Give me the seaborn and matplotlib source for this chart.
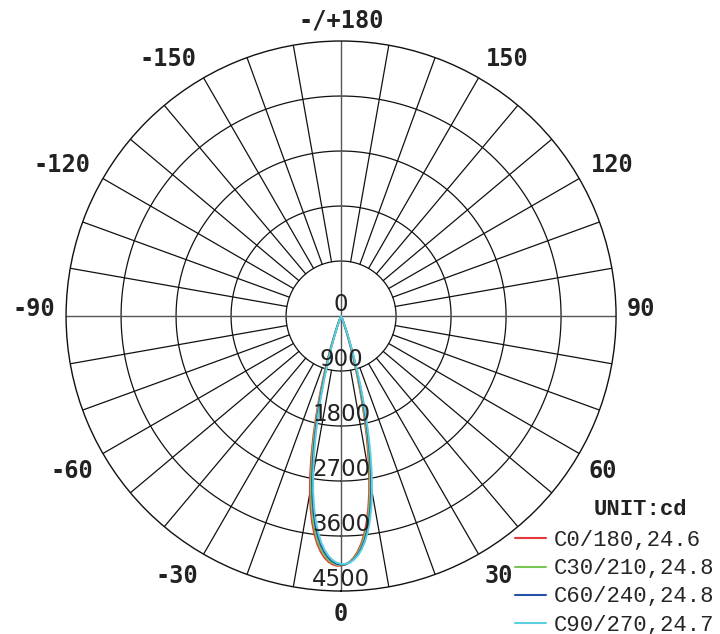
import numpy as np
import pandas as pd
import matplotlib
matplotlib.use("Agg")
import matplotlib.pyplot as plt
import seaborn as sns

# gamma angles (deg) away from nadir, same on both halves of each C-plane
angles = [0, 1, 2, 3, 4, 5, 6, 7, 8, 9, 10, 11, 12, 13, 14, 15, 16, 17, 18, 19,
          20, 21, 22, 24, 26, 28, 30, 40]

# intensities in cd: left half (C180.. side) and right half (C0.. side)
c0_left = [4087, 4087, 4067, 4025, 3959, 3867, 3747, 3596, 3410, 3190, 2936, 2651,
           2341, 2015, 1684, 1361, 1059, 790, 562, 379, 241, 144, 80, 20, 7, 4, 3, 0]
c0_right = [4087, 4067, 4025, 3959, 3867, 3747, 3596, 3410, 3190, 2936, 2651, 2341,
            2015, 1684, 1361, 1059, 790, 562, 379, 241, 144, 80, 41, 8, 4, 3, 2, 0]
c30_left = [4080, 4074, 4047, 3998, 3925, 3826, 3697, 3536, 3340, 3110, 2847, 2554,
            2239, 1911, 1581, 1264, 971, 714, 500, 332, 207, 121, 66, 15, 6, 4, 3, 0]
c30_right = [4080, 4066, 4030, 3972, 3889, 3778, 3636, 3462, 3253, 3009, 2733, 2431,
             2109, 1779, 1452, 1144, 864, 623, 427, 277, 168, 95, 50, 11, 5, 3, 2, 0]
c60_left = [4070, 4056, 4020, 3962, 3879, 3769, 3627, 3453, 3245, 3002, 2727, 2425,
            2104, 1774, 1449, 1141, 862, 622, 426, 276, 168, 95, 50, 11, 5, 3, 2, 0]
c60_right = [4070, 4064, 4037, 3988, 3916, 3816, 3688, 3527, 3332, 3103, 2840, 2548,
             2234, 1906, 1578, 1261, 969, 713, 499, 331, 206, 120, 65, 15, 6, 4, 3, 0]
c90_left = [4057, 4037, 3995, 3930, 3839, 3720, 3569, 3385, 3167, 2914, 2632, 2324,
            2000, 1672, 1351, 1051, 784, 558, 376, 240, 143, 79, 41, 8, 4, 3, 2, 0]
c90_right = [4057, 4057, 4037, 3995, 3930, 3839, 3720, 3569, 3385, 3167, 2914, 2632,
             2324, 2000, 1672, 1351, 1051, 784, 558, 376, 240, 143, 79, 19, 7, 4, 3, 0]

series_names = ["C0/180,24.6", "C30/210,24.8", "C60/240,24.8", "C90/270,24.7"]
series_colors = ["#e8373b", "#78c655", "#2253a6", "#5ccfde"]
ring_values = [900, 1800, 2700, 3600, 4500]
angle_labels = {0: "0", 30: "30", 60: "60", 90: "90", 120: "120", 150: "150",
                180: "-/+180", -150: "-150", -120: "-120", -90: "-90",
                -60: "-60", -30: "-30"}

halves = [(c0_left, c0_right), (c30_left, c30_right),
          (c60_left, c60_right), (c90_left, c90_right)]

rows = []
for name, (left, right) in zip(series_names, halves):
    for a, v in zip(angles[::-1], left[::-1]):
        if a != 0:
            rows.append((name, -a, v))
    for a, v in zip(angles, right):
        rows.append((name, a, v))
df = pd.DataFrame(rows, columns=["series", "gamma", "cd"])
df["theta"] = np.deg2rad(df["gamma"])

sns.set_theme(style="white")
plt.rcParams["font.family"] = ["DejaVu Sans"]

fig = plt.figure(figsize=(7.2, 6.34), dpi=100)
ax = fig.add_axes([0.0917, 0.0678, 0.764, 0.8675], projection="polar")
ax.set_theta_zero_location("S")
ax.set_theta_direction(1)
ax.set_ylim(0, 4500)
ax.grid(False)
ax.set_xticks([])
ax.set_yticks([])
ax.spines["polar"].set_color("#111111")
ax.spines["polar"].set_linewidth(1.0)

# grid: rings and spokes
full = np.linspace(0, 2 * np.pi, 400)
for r in ring_values[:-1]:
    ax.plot(full, np.full_like(full, r), color="#111111", lw=0.9, zorder=1)
for a in range(-170, 181, 10):
    t = np.deg2rad(a)
    if a % 90 == 0:
        ax.plot([t, t], [0, 4500], color="#555555", lw=1.0, zorder=1)
    else:
        ax.plot([t, t], [900, 4500], color="#111111", lw=0.9, zorder=1)

sns.lineplot(data=df, x="theta", y="cd", hue="series", hue_order=series_names,
             palette=series_colors, estimator=None, errorbar=None, sort=False,
             lw=1.4, ax=ax, zorder=3)
leg = ax.get_legend()
handles = leg.legend_handles
labels = [t.get_text() for t in leg.get_texts()]
leg.remove()
ax.set_xlabel("")
ax.set_ylabel("")
ax.set_ylim(0, 4500)

# radial value labels along the 0 axis
ax.text(0, 0, "0", ha="center", va="bottom", fontsize=16.5, color="#222222", zorder=4)
for r in ring_values:
    ax.text(0, r, str(r), ha="center", va="bottom", fontsize=16.5,
            color="#222222", zorder=4)

# angle labels: anchored just outside the circle, aligned away from the centre
for a, lab in angle_labels.items():
    t = np.deg2rad(a)
    s, c = np.sin(t), np.cos(t)
    ha = "left" if s > 0.01 else ("right" if s < -0.01 else "center")
    if c > 0.01:
        va, rpx = "top", 286
    elif c < -0.01:
        va, rpx = "baseline", 289
    else:
        va, rpx = "baseline", 286
    ax.text(t, rpx / 275 * 4500, lab, ha=ha, va=va, fontsize=17,
            fontweight="bold", family="DejaVu Sans Mono", color="#222222",
            clip_on=False)

fig.text(0.889, 0.1956, "UNIT:cd", ha="center", va="center", fontsize=16,
         fontweight="bold", family="Liberation Mono", color="#222222")
fig.legend(handles, labels, loc="upper left", bbox_to_anchor=(0.7153, 0.1637),
           frameon=False, borderpad=0, borderaxespad=0, handlelength=1.4,
           handletextpad=0.36, labelspacing=0.32,
           prop={"family": "Liberation Mono", "size": 16})
for h in fig.legends[0].legend_handles:
    h.set_linewidth(1.5)

fig.savefig("out.png", dpi=100)
